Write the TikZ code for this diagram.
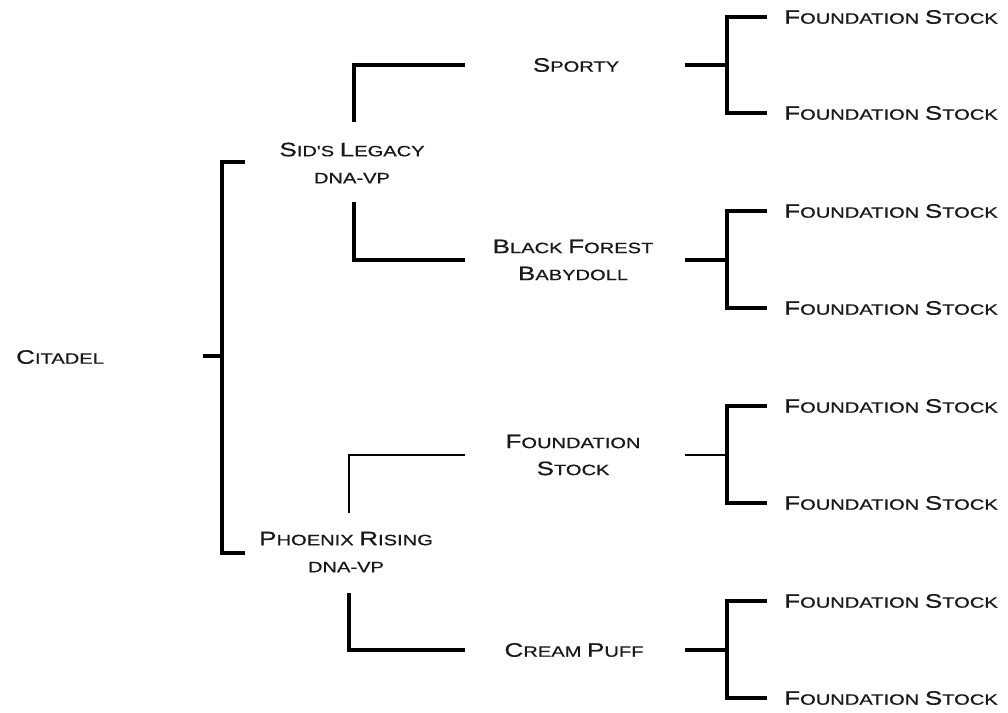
\documentclass[tikz,border=0pt]{standalone}
\usepackage{fontspec}
\newfontfamily\cpfont[FakeStretch=1.34,FakeBold=0.6]{Liberation Sans}
\newcommand\bg[1]{{\fontsize{19.5}{27}\selectfont #1}}
\begin{document}
\begin{tikzpicture}[x=1pt,y=-1pt,
  lbl/.style={inner sep=0pt,font=\cpfont\fontsize{15}{27}\selectfont,align=center,text=black!90},
  br/.style={line width=3.2pt},
  thinbr/.style={line width=1.6pt}]
\useasboundingbox (0,0) rectangle (1008,712);
% labels
\node[lbl] (cit) at (60,357) {\bg{C}ITADEL};
\node[lbl] (sid) at (352,163) {\bg{S}ID'S \bg{L}EGACY\\DNA-VP};
\node[lbl] (phx) at (346,552) {\bg{P}HOENIX \bg{R}ISING\\DNA-VP};
\node[lbl] (spo) at (576,65) {\bg{S}PORTY};
\node[lbl] (bfb) at (573,260) {\bg{B}LACK \bg{F}OREST\\\bg{B}ABYDOLL};
\node[lbl] (fsm) at (573,455) {\bg{F}OUNDATION\\\bg{S}TOCK};
\node[lbl] (crp) at (574,650) {\bg{C}REAM \bg{P}UFF};
\foreach \i/\y in {1/17,2/113,3/211,4/308,5/406,6/503,7/601,8/698}
  \node[lbl,anchor=west] (fs\i) at (784,\y) {\bg{F}OUNDATION \bg{S}TOCK};
% coordinates
\coordinate (c0) at (203,356); \coordinate (c1) at (222,356);
\coordinate (c2) at (245,162); \coordinate (c3) at (245,553);
\coordinate (s0) at (354,122); \coordinate (s1) at (354,202);
\coordinate (p0) at (349,513); \coordinate (p1) at (349,593);
\foreach \n/\y in {spo/65,bfb/260,fsm/455,crp/650}{
  \coordinate (\n L) at (465,\y);
  \coordinate (\n R) at (685,\y);
  \coordinate (\n J) at (727,\y);
}
% Citadel bracket
\draw[br] (c0) -- (c1);
\draw[br] (c2) -| (c1) |- (c3);
% Sid's Legacy
\draw[br] (s0) |- (spoL);
\draw[br] (s1) |- (bfbL);
% Phoenix Rising
\draw[thinbr] (p0) |- (fsmL);
\draw[br] (p1) |- (crpL);
% right brackets
\draw[br] (spoR) -- (spoJ);
\draw[br] ([xshift=-17pt]fs1.west) -| (spoJ) |- ([xshift=-17pt]fs2.west);
\draw[br] (bfbR) -- (bfbJ);
\draw[br] ([xshift=-17pt]fs3.west) -| (bfbJ) |- ([xshift=-17pt]fs4.west);
\draw[thinbr] (fsmR) -- (fsmJ);
\draw[br] ([xshift=-17pt]fs5.west) -| (fsmJ) |- ([xshift=-17pt]fs6.west);
\draw[br] (crpR) -- (crpJ);
\draw[br] ([xshift=-17pt]fs7.west) -| (crpJ) |- ([xshift=-17pt]fs8.west);
\end{tikzpicture}
\end{document}
